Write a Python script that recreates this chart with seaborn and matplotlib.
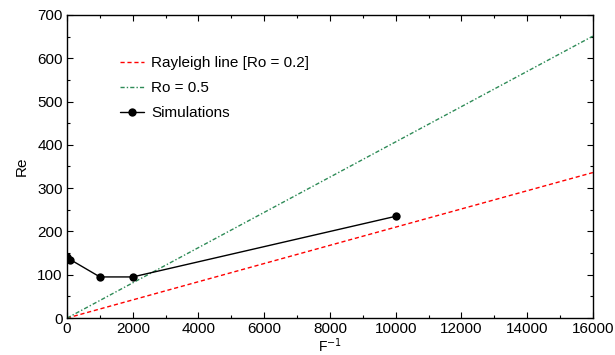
import numpy as np
import pandas as pd
import matplotlib
matplotlib.use("Agg")
import matplotlib.pyplot as plt
import seaborn as sns
from matplotlib.ticker import MultipleLocator

# data
line_x = [0, 16000]
rayleigh_re = [0, 336]
ro05_re = [0, 651]
sim_finv = [0, 100, 1000, 2000, 10000]
sim_re = [140, 135, 95, 95, 235]

sns.set_theme(style="ticks")
plt.rcParams['font.family'] = ['Liberation Sans', 'DejaVu Sans']
plt.rcParams['text.color'] = 'black'
plt.rcParams['axes.labelcolor'] = 'black'
plt.rcParams['xtick.color'] = 'black'
plt.rcParams['ytick.color'] = 'black'

fig = plt.figure(figsize=(6.15, 3.55), dpi=100)
ax = fig.add_axes([0.109, 0.104, 0.855, 0.854])

lines = pd.DataFrame({"x": line_x, "ray": rayleigh_re, "ro": ro05_re})
sims = pd.DataFrame({"x": sim_finv, "re": sim_re})

sns.lineplot(data=lines, x="x", y="ray", ax=ax, color="#ff0000", lw=1.0,
             linestyle=(0, (3, 2)), label="Rayleigh line [Ro = 0.2]")
sns.lineplot(data=lines, x="x", y="ro", ax=ax, color="#2e8b57", lw=1.0,
             linestyle=(0, (3, 1.5, 1, 1.5)), label="Ro = 0.5")
sns.lineplot(data=sims, x="x", y="re", ax=ax, color="black", lw=1.0,
             marker="o", markersize=6, markeredgewidth=0, label="Simulations")

ax.set_xlim(0, 16000)
ax.set_ylim(0, 700)
ax.xaxis.set_major_locator(MultipleLocator(2000))
ax.xaxis.set_minor_locator(MultipleLocator(1000))
ax.yaxis.set_major_locator(MultipleLocator(100))
ax.yaxis.set_minor_locator(MultipleLocator(50))
ax.tick_params(which="both", direction="in", top=True, right=True,
               labelsize=11, color="black", width=0.8, pad=3)
ax.tick_params(axis="x", which="both", pad=2.5)
ax.tick_params(which="major", length=4)
ax.tick_params(which="minor", length=2)
for s in ax.spines.values():
    s.set_linewidth(1.0)
    s.set_color("black")

ax.set_xlabel("F$^{-1}$", fontsize=10, labelpad=0.5)
ax.set_ylabel("Re", fontsize=11, labelpad=6)

ax.legend(loc="upper left", bbox_to_anchor=(0.08, 0.90), frameon=False,
          fontsize=11, handlelength=1.6, handletextpad=0.45, labelspacing=0.72,
          borderpad=0.2)

fig.savefig("out.png", dpi=100)
